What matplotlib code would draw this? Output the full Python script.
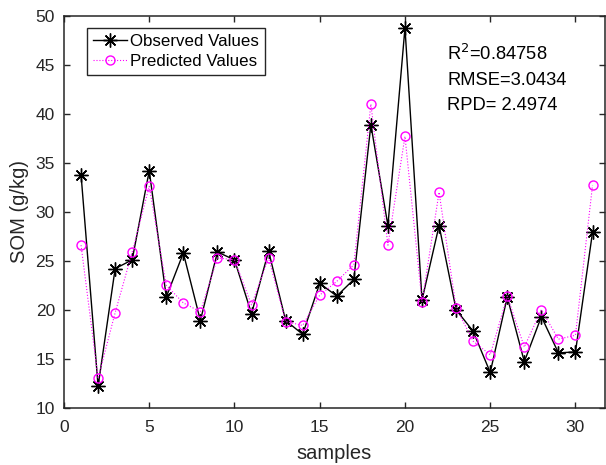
import matplotlib

matplotlib.use("Agg")
import matplotlib.pyplot as plt  # noqa: E402
import numpy as np

plt.rcParams["font.family"] = ["Liberation Sans", "DejaVu Sans"]

samples = np.arange(1, 32)
observed = [33.8, 12.2, 24.2, 25.1, 34.2, 21.3, 25.8, 18.9, 25.9, 25.1,
            19.6, 26.0, 18.9, 17.5, 22.7, 21.4, 23.1, 38.9, 28.6, 48.8,
            21.0, 28.6, 20.0, 17.8, 13.6, 21.3, 14.7, 19.3, 15.6, 15.7, 27.9]
predicted = [26.6, 13.0, 19.7, 25.9, 32.6, 22.5, 20.7, 19.8, 25.3, 25.1,
             20.5, 25.3, 18.8, 18.4, 21.5, 22.9, 24.6, 41.0, 26.6, 37.7,
             20.8, 32.0, 20.2, 16.8, 15.4, 21.4, 16.2, 20.0, 17.0, 17.4, 32.7]
x_ticks = [0, 5, 10, 15, 20, 25, 30]
y_ticks = [10, 15, 20, 25, 30, 35, 40, 45, 50]
stats_text = "R$^2$=0.84758\nRMSE=3.0434\nRPD= 2.4974"

axis_color = "#262626"

fig = plt.figure(figsize=(6.06, 4.65), dpi=100)
ax = fig.add_axes([0.1056, 0.1232, 0.8924, 0.8424])

# MATLAB-style asterisk: 8 spokes
ax.plot(samples, observed, color="black", marker=(8, 2, 0), markersize=10,
        markeredgewidth=1.0, linewidth=1.0, label="Observed Values")
ax.plot(samples, predicted, color="magenta", linestyle=":", marker="o",
        markersize=6.5, markerfacecolor="none", markeredgewidth=1.0,
        linewidth=0.8, label="Predicted Values")

ax.set_xlim(0, 31.72)
ax.set_ylim(10, 50)
ax.set_xticks(x_ticks)
ax.set_yticks(y_ticks)
ax.tick_params(direction="in", length=4, width=1.0, labelsize=12.5,
               colors=axis_color, top=True, right=True, pad=6.5)
ax.tick_params(axis="x", pad=8.5)
for spine in ax.spines.values():
    spine.set_color(axis_color)
    spine.set_linewidth(1.1)

ax.set_xlabel("samples", fontsize=14.5, color=axis_color, labelpad=7)
ax.set_ylabel("SOM (g/kg)", fontsize=14.5, color=axis_color, labelpad=5)

leg = ax.legend(loc="upper left", bbox_to_anchor=(0.042, 0.97), fontsize=12.2,
                fancybox=False, framealpha=1, edgecolor=axis_color,
                borderpad=0.35, handlelength=2.0, handletextpad=0.2,
                labelspacing=0.3, borderaxespad=0)
leg.get_frame().set_linewidth(1.0)

ax.text(0.709, 0.93, stats_text, transform=ax.transAxes, fontsize=13.2,
        va="top", ha="left", linespacing=1.62)

fig.savefig("out.png", dpi=100)
plt.close(fig)
